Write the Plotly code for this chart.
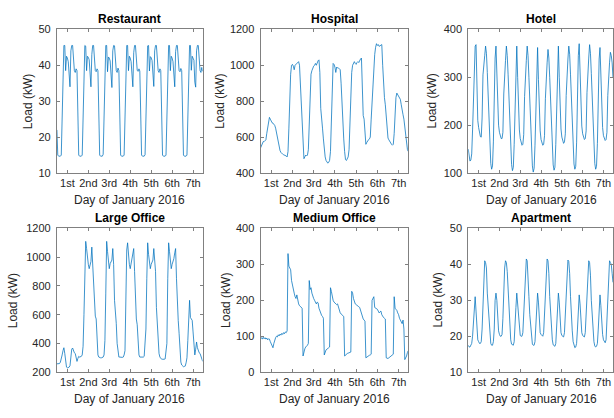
import plotly.graph_objects as go

hours = list(range(168))
day_ticks = [12, 36, 60, 84, 108, 132, 156]
day_labels = ["1st", "2nd", "3rd", "4th", "5th", "6th", "7th"]

restaurant = [
    22, 15, 14.7, 14.7, 14.7, 15, 28, 40, 45.5, 45.5, 38.5, 42.5, 42, 41, 35, 34, 44, 45.5, 45.5, 40, 38.5, 38, 39, 38.5,
    22, 15, 14.7, 14.7, 14.7, 15, 27, 40, 45.5, 45.3, 38.5, 42.5, 42.2, 41.5, 35.5, 34, 43, 45.5, 45.5, 40, 38.5, 38.2, 39, 38.5,
    22.5, 15, 14.7, 14.7, 14.7, 15.2, 28, 40.5, 45.5, 45.5, 38.2, 42.3, 42, 41.2, 35, 33.8, 44, 45.5, 45.4, 40.5, 38.5, 38, 39.2, 38.5,
    22, 15, 14.7, 14.7, 14.7, 15, 27.5, 40, 45.5, 45.5, 38.5, 42.5, 42, 41, 35.2, 34, 43.5, 45.5, 45.5, 40, 38.6, 38.3, 39, 38.4,
    22, 15, 14.7, 14.7, 14.7, 15.1, 28, 40, 45.4, 45.5, 38.4, 42.4, 42.1, 41.3, 35.4, 34.1, 44, 45.5, 45.5, 40.2, 38.5, 38, 39, 38.5,
    22.2, 15, 14.7, 14.7, 14.7, 15, 27.8, 40.2, 45.5, 45.5, 38.5, 42.5, 42, 41, 35, 34, 43.8, 45.5, 45.5, 40, 38.5, 38.2, 39.1, 38.5,
    22, 15, 14.7, 14.7, 14.7, 15, 28, 40, 45.5, 45.5, 38.6, 42.5, 42, 41.4, 35.3, 33.9, 44, 45.5, 45.5, 40.1, 38.5, 38, 39.4, 38.3,
]

hospital = [
    540, 555, 570, 575, 575, 578, 585, 620, 650, 680, 710, 700, 685, 680, 678, 672, 665, 650, 620, 590, 560, 540, 525, 515,
    508, 505, 502, 500, 500, 495, 490, 520, 650, 820, 950, 1000, 1005, 995, 975, 1000, 1005, 1010, 1015, 1020, 1000, 900, 760, 700,
    600, 480, 490, 500, 495, 500, 530, 700, 850, 950, 970, 990, 995, 1000, 1010, 1000, 1015, 1025, 1030, 960, 760, 720, 650, 590,
    530, 490, 470, 458, 455, 460, 470, 520, 700, 900, 1010, 1005, 990, 960, 990, 985, 985, 980, 975, 900, 760, 680, 590, 520,
    475, 470, 480, 490, 530, 700, 880, 960, 1000, 1015, 1020, 1010, 1005, 1015, 1020, 1015, 1030, 1035, 1040, 900, 720, 700, 620, 560,
    570, 580, 585, 590, 600, 700, 800, 900, 1000, 1060, 1100, 1120, 1110, 1115, 1105, 1110, 1110, 1115, 1000, 850, 820, 780, 720, 640,
    595, 585, 575, 565, 560, 555, 560, 620, 750, 820, 845, 835, 830, 820, 810, 780, 735, 725, 700, 660, 600, 560, 530, 520,
]

hotel = [
    150, 130, 125, 127, 140, 190, 270, 335, 365, 368, 260, 210, 195, 182, 176, 175, 215, 305, 335, 345, 365, 350, 310, 255,
    200, 150, 120, 108, 115, 165, 260, 340, 365, 300, 230, 200, 185, 175, 172, 172, 185, 265, 320, 335, 365, 345, 305, 250,
    195, 145, 118, 105, 112, 160, 255, 340, 365, 300, 225, 190, 172, 162, 158, 160, 180, 260, 320, 335, 365, 345, 300, 245,
    190, 140, 115, 102, 110, 158, 250, 335, 362, 295, 225, 188, 170, 160, 158, 160, 178, 255, 315, 330, 358, 340, 300, 245,
    192, 143, 117, 106, 112, 160, 255, 340, 365, 300, 228, 192, 175, 165, 162, 165, 182, 262, 322, 338, 365, 348, 305, 250,
    196, 146, 119, 108, 114, 163, 260, 345, 370, 305, 232, 198, 182, 174, 170, 172, 188, 268, 325, 340, 368, 350, 308, 252,
    198, 148, 120, 108, 114, 162, 258, 338, 362, 298, 228, 195, 178, 170, 168, 170, 185, 262, 318, 330, 352, 345, 330, 300,
]

large_office = [
    258, 258, 259, 260, 270, 290, 320, 350, 370, 330, 260, 235, 230, 230, 235, 245, 310, 360, 368, 345, 335, 330, 300, 275,
    295, 310, 305, 308, 310, 320, 380, 600, 950, 1110, 1060, 980, 950, 920, 960, 970, 1070, 960, 800, 650, 590, 570, 420, 320,
    305, 300, 300, 300, 302, 305, 320, 420, 750, 1110, 1040, 970, 920, 955, 970, 980, 1060, 950, 700, 560, 540, 400, 320, 305,
    305, 303, 302, 303, 305, 320, 350, 750, 1050, 1100, 980, 950, 920, 960, 980, 1030, 1060, 900, 650, 570, 530, 380, 320, 305,
    304, 303, 303, 305, 310, 380, 500, 850, 1100, 1020, 980, 920, 950, 970, 980, 1060, 1000, 900, 650, 560, 400, 330, 305, 295,
    290, 290, 288, 290, 292, 330, 400, 850, 1100, 1040, 980, 920, 950, 970, 990, 1030, 1060, 850, 600, 560, 470, 350, 270, 250,
    240, 238, 240, 242, 265, 300, 420, 620, 700, 580, 565, 560, 480, 400, 320, 360, 410, 370, 340, 335, 330, 315, 300, 275,
]

medium_office = [
    98, 95, 92, 97, 93, 96, 92, 95, 90, 93, 92, 85, 78, 75, 68, 80, 92, 96, 100, 98, 104, 101, 106, 103,
    108, 105, 110, 107, 112, 110, 115, 330, 295, 290, 285, 255, 240, 230, 220, 210, 205, 215, 195, 190, 185, 182, 180, 178,
    45, 60, 65, 70, 72, 75, 80, 255, 230, 235, 220, 210, 205, 200, 192, 190, 195, 193, 178, 170, 160, 158, 155, 150,
    48, 58, 62, 64, 65, 68, 70, 235, 225, 210, 200, 195, 192, 190, 188, 190, 180, 170, 165, 162, 160, 158, 155, 45,
    48, 50, 52, 53, 54, 55, 56, 225, 220, 205, 195, 190, 188, 185, 185, 182, 180, 170, 160, 150, 148, 145, 142, 40,
    42, 45, 46, 47, 48, 50, 200, 205, 210, 180, 178, 176, 175, 170, 165, 168, 170, 160, 155, 152, 150, 148, 40, 39,
    38, 40, 42, 44, 45, 48, 50, 210, 178, 175, 172, 165, 160, 150, 145, 140, 135, 145, 120, 35, 40, 45, 55, 60,
]

apartment = [
    17.5, 17, 17, 17.5, 18, 20, 24, 29, 31, 27, 22, 19, 18.5, 18, 18, 18.5, 22, 30, 37, 41, 40.5, 39, 32, 28,
    24, 19.5, 18, 17.5, 17.5, 18.5, 22, 30, 32, 30, 25, 21.5, 20.5, 20, 20, 20.5, 25, 33, 39, 41, 40.5, 38, 32, 27,
    23, 19, 17.8, 17.5, 17.5, 18.5, 22, 28, 32, 29, 24, 21, 20.2, 20, 20, 21, 26, 34, 40, 41.5, 41, 37.5, 31, 26,
    22.5, 19, 17.8, 17.5, 17.5, 18.5, 22, 28, 32, 29.5, 24, 21, 20.5, 20.2, 20, 21, 26, 34, 40, 41.5, 41, 37.5, 31, 26,
    22.5, 19, 17.6, 17.2, 17.2, 18, 22, 28, 32, 29.5, 24, 21, 20.2, 20, 19.8, 21, 26, 34, 40, 41.2, 40.8, 37.5, 31, 25,
    21.5, 18.5, 17.2, 16.8, 17, 18, 22, 27.5, 31.5, 29, 24, 21, 20.2, 20, 19.8, 21, 26, 34, 40, 41, 40.5, 37, 30, 25,
    21, 18.5, 17.3, 17, 17.2, 18, 22, 27.5, 31.5, 28.5, 23, 20.5, 19, 18.5, 18.2, 19, 25, 33, 39.5, 41, 40.5, 40, 37.5, 35,
]

titles = ["Restaurant", "Hospital", "Hotel", "Large Office", "Medium Office", "Apartment"]
series = [restaurant, hospital, hotel, large_office, medium_office, apartment]
y_ranges = [[10, 50], [400, 1200], [100, 400], [200, 1200], [0, 400], [10, 50]]
y_dticks = [10, 200, 100, 200, 100, 10]

for s in series:
    assert len(s) == 168, len(s)

W, H = 614, 418
col_px = [(57, 203), (261, 409), (469, 614)]
row_px = [(24, 172), (229, 377)]
ylabel_x = [[28, 221, 433], [13, 227, 439]]

FONT = "Liberation Sans, Arial, Helvetica, sans-serif"
AXCOL = "#808080"
TXT = "#262626"
BLUE = "rgba(0,114,189,0.85)"

fig = go.Figure()
layout = dict(
    width=W, height=H, margin=dict(l=0, r=0, t=0, b=0),
    paper_bgcolor="white", plot_bgcolor="white", showlegend=False,
    font=dict(family=FONT, size=11, color=TXT),
)
annotations = []
for i in range(6):
    r, c = divmod(i, 3)
    n = "" if i == 0 else str(i + 1)
    x0, x1 = col_px[c]
    y0, y1 = row_px[r]
    fig.add_trace(go.Scatter(
        x=hours, y=series[i], mode="lines",
        line=dict(color=BLUE, width=0.9),
        xaxis="x" + n, yaxis="y" + n, hoverinfo="skip",
    ))
    layout["xaxis" + n] = dict(
        domain=[x0 / W, x1 / W], anchor="y" + n, range=[0, 167],
        tickmode="array", tickvals=day_ticks, ticktext=day_labels,
        ticks="inside", ticklen=3, tickcolor=AXCOL, showline=True,
        linecolor=AXCOL, linewidth=1, mirror="ticks", showgrid=False,
        zeroline=False, tickfont=dict(size=11, color=TXT, family=FONT),
    )
    layout["yaxis" + n] = dict(
        domain=[1 - y1 / H, 1 - y0 / H], anchor="x" + n, range=y_ranges[i],
        dtick=y_dticks[i], tick0=0, ticks="inside", ticklen=3, tickcolor=AXCOL,
        showline=True, linecolor=AXCOL, linewidth=1, mirror="ticks",
        showgrid=False, zeroline=False, ticklabelstandoff=3,
        tickfont=dict(size=11, color=TXT, family=FONT),
    )
    cx = (x0 + (x1 if c < 2 else 615)) / 2
    annotations.append(dict(
        text="<b>" + titles[i] + "</b>", x=cx / W, y=1 - (y0 - 11) / H,
        xref="paper", yref="paper", xanchor="center", yanchor="middle",
        showarrow=False, font=dict(size=12, color="black", family=FONT),
    ))
    annotations.append(dict(
        text="Day of January 2016", x=cx / W, y=1 - (y1 + 28) / H,
        xref="paper", yref="paper", xanchor="center", yanchor="middle",
        showarrow=False, font=dict(size=12, color=TXT, family=FONT),
    ))
    annotations.append(dict(
        text="Load (kW)", x=ylabel_x[r][c] / W, y=1 - ((y0 + y1) / 2) / H,
        xref="paper", yref="paper", xanchor="center", yanchor="middle",
        textangle=-90, showarrow=False, font=dict(size=12, color=TXT, family=FONT),
    ))
layout["annotations"] = annotations
fig.update_layout(**layout)
fig.write_html("out.html")
